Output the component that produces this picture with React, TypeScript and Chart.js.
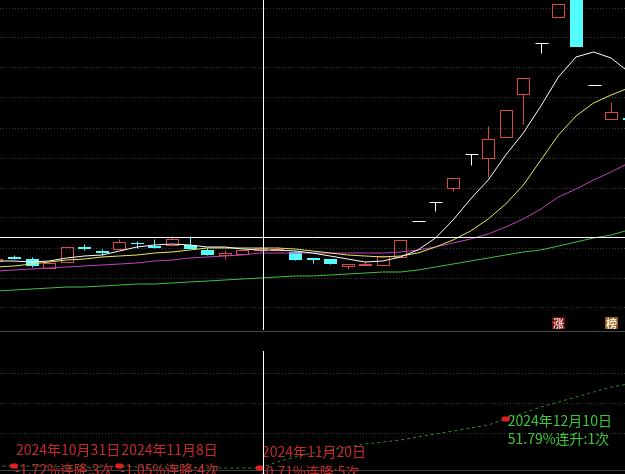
import { useEffect, useRef } from 'react';
import Chart from 'chart.js/auto';

// trading days shown (first one is only half visible at the left edge)
const dates = [
  '2024-10-30', '2024-10-31', '2024-11-01', '2024-11-04', '2024-11-05', '2024-11-06', '2024-11-07',
  '2024-11-08', '2024-11-11', '2024-11-12', '2024-11-13', '2024-11-14', '2024-11-15', '2024-11-18',
  '2024-11-19', '2024-11-20', '2024-11-21', '2024-11-22', '2024-11-25', '2024-11-26', '2024-11-27',
  '2024-11-28', '2024-11-29', '2024-12-02', '2024-12-03', '2024-12-04', '2024-12-05', '2024-12-06',
  '2024-12-09', '2024-12-10', '2024-12-11', '2024-12-12', '2024-12-13', '2024-12-16', '2024-12-17',
  '2024-12-18', '2024-12-19',
];

const opens = [7.38, 7.46, 7.42, 7.24, 7.36, 7.66, 7.58, 7.62, 7.74, 7.68, 7.70, 7.70, 7.60, 7.50, 7.52, 7.60, 7.60, 7.56, 7.44, 7.42, 7.28, 7.31, 7.30, 7.46, 8.18, 8.56, 8.84, 9.52, 9.44, 9.86, 10.72, 11.74, 12.26, 12.90, 10.90, 10.22, 10.24];
const highs = [7.42, 7.50, 7.46, 7.34, 7.68, 7.72, 7.62, 7.82, 7.78, 7.82, 7.88, 7.88, 7.64, 7.60, 7.60, 7.66, 7.66, 7.58, 7.44, 7.42, 7.32, 7.38, 7.50, 7.80, 8.18, 8.56, 9.04, 9.52, 10.08, 10.40, 11.04, 11.74, 12.52, 12.90, 10.90, 10.56, 10.24];
const lows = [7.38, 7.42, 7.26, 7.24, 7.36, 7.60, 7.50, 7.62, 7.64, 7.64, 7.70, 7.64, 7.50, 7.42, 7.52, 7.58, 7.58, 7.40, 7.34, 7.32, 7.22, 7.30, 7.30, 7.46, 8.18, 8.38, 8.78, 9.30, 9.06, 9.86, 10.12, 11.54, 12.26, 11.68, 10.90, 10.22, 10.21];
const closes = [7.42, 7.45, 7.30, 7.34, 7.66, 7.65, 7.57, 7.76, 7.73, 7.67, 7.82, 7.64, 7.52, 7.54, 7.60, 7.64, 7.61, 7.42, 7.43, 7.34, 7.32, 7.32, 7.48, 7.80, 8.18, 8.56, 9.04, 9.52, 9.82, 10.40, 11.04, 11.74, 12.52, 11.68, 10.90, 10.36, 10.21];

// moving averages
const ma5 = [7.38, 7.38, 7.36, 7.38, 7.44, 7.48, 7.50, 7.58, 7.66, 7.70, 7.72, 7.70, 7.66, 7.66, 7.62, 7.60, 7.60, 7.58, 7.54, 7.48, 7.42, 7.36, 7.38, 7.46, 7.60, 7.84, 8.20, 8.62, 9.00, 9.50, 9.94, 10.48, 11.06, 11.46, 11.56, 11.44, 11.16];
const ma10 = [7.26, 7.28, 7.32, 7.36, 7.40, 7.42, 7.46, 7.48, 7.50, 7.54, 7.56, 7.60, 7.64, 7.64, 7.64, 7.64, 7.64, 7.62, 7.58, 7.54, 7.50, 7.48, 7.46, 7.48, 7.54, 7.66, 7.80, 7.98, 8.22, 8.52, 8.90, 9.40, 9.90, 10.28, 10.54, 10.70, 10.84];
const ma20 = [7.18, 7.20, 7.22, 7.24, 7.26, 7.28, 7.30, 7.32, 7.34, 7.38, 7.40, 7.44, 7.46, 7.48, 7.50, 7.54, 7.54, 7.54, 7.54, 7.54, 7.54, 7.54, 7.54, 7.56, 7.60, 7.66, 7.74, 7.82, 7.92, 8.06, 8.22, 8.42, 8.66, 8.82, 9.00, 9.16, 9.34];
const ma60 = [6.78, 6.80, 6.82, 6.84, 6.86, 6.86, 6.88, 6.90, 6.92, 6.92, 6.94, 6.96, 6.98, 7.00, 7.02, 7.04, 7.06, 7.08, 7.08, 7.10, 7.12, 7.14, 7.16, 7.16, 7.20, 7.26, 7.32, 7.38, 7.44, 7.50, 7.56, 7.60, 7.68, 7.76, 7.84, 7.90, 8.00];

// lower indicator line
const signalLine = [0.4, 0.4, 0.4, 0.4, 0.3, 0.3, 0.3, 0.4, 0.3, 0.3, 0.3, 0.3, 0.2, 0.2, 0.2, 0.2, 0.8, 1.3, 1.7, 2.0, 2.3, 2.6, 2.8, 3.0, 3.3, 3.6, 3.9, 4.2, 4.5, 5.1, 5.7, 6.3, 6.8, 7.3, 7.8, 8.3, 8.6];

// streak markers
const signalDates = ['2024-10-31', '2024-11-08', '2024-11-20', '2024-12-10'];
const signalPcts = [-1.72, -1.05, -0.71, 51.79];
const signalCounts = [3, 4, 5, 1];

const badgeDates = ['2024-12-13', '2024-12-18'];
const badgeTexts = ['涨', '榜'];
const badgeColors = ['#6e0a0a', '#8a5a1e'];

const priceGrid = [6.44, 7.04, 7.64, 8.24, 8.84, 9.44, 10.04, 10.64, 11.24, 11.84, 12.44];
const signalGrid = [3.7, 6.7, 9.7];

// cursor position (sits a touch right of the 11/20 bar)
const cursorIndex = 15.2;
const cursorPrice = 7.86;

const X_MIN = 0.203;
const X_MAX = 35.79;

const RED = '#d84848';
const CYAN = '#54fcfc';
const FONT = '"Noto Sans CJK SC", "Noto Sans", sans-serif';

const pts = (arr: number[]) => arr.map((v, k) => ({ x: k, y: v }));

const cnDate = (d: string) => {
  const [y, m, dd] = d.split('-');
  return `${y}年${Number(m)}月${Number(dd)}日`;
};

const candlePlugin = {
  id: 'candles',
  beforeDatasetsDraw(chart: any) {
    const { ctx, chartArea, scales } = chart;
    const x = scales.x;
    const y = scales.y;
    const half = Math.round((x.getPixelForValue(1) - x.getPixelForValue(0)) * 0.35);
    ctx.save();
    ctx.beginPath();
    ctx.rect(chartArea.left, chartArea.top, chartArea.width, chartArea.height);
    ctx.clip();
    ctx.lineWidth = 1;
    dates.forEach((_, k) => {
      const cx = Math.round(x.getPixelForValue(k)) + 0.5;
      const yo = Math.round(y.getPixelForValue(opens[k])) + 0.5;
      const yc = Math.round(y.getPixelForValue(closes[k])) + 0.5;
      const yh = Math.round(y.getPixelForValue(highs[k])) + 0.5;
      const yl = Math.round(y.getPixelForValue(lows[k])) + 0.5;
      if (closes[k] > opens[k]) {
        ctx.strokeStyle = RED;
        ctx.strokeRect(cx - half, yc, half * 2, Math.max(yo - yc, 1));
        ctx.beginPath();
        ctx.moveTo(cx, yh);
        ctx.lineTo(cx, yc);
        ctx.moveTo(cx, yo);
        ctx.lineTo(cx, yl);
        ctx.stroke();
      } else if (closes[k] < opens[k]) {
        ctx.strokeStyle = CYAN;
        ctx.fillStyle = CYAN;
        ctx.beginPath();
        ctx.moveTo(cx, yh);
        ctx.lineTo(cx, yl);
        ctx.stroke();
        ctx.fillRect(cx - half - 0.5, yo - 0.5, half * 2 + 1, Math.max(yc - yo + 1, 1));
      } else {
        ctx.strokeStyle = '#ffffff';
        ctx.beginPath();
        ctx.moveTo(cx - half, yo);
        ctx.lineTo(cx + half + 1, yo);
        ctx.moveTo(cx, yh);
        ctx.lineTo(cx, yl);
        ctx.stroke();
      }
    });
    ctx.restore();
  },
  afterDatasetsDraw(chart: any) {
    const { ctx, chartArea, scales } = chart;
    const x = scales.x;
    const y = scales.y;
    ctx.save();
    // badges along the bottom
    ctx.font = `bold 11px ${FONT}`;
    ctx.textAlign = 'center';
    ctx.textBaseline = 'middle';
    badgeDates.forEach((d, n) => {
      const cx = Math.round(x.getPixelForValue(dates.indexOf(d)));
      const top = chartArea.bottom - 13;
      ctx.fillStyle = badgeColors[n];
      ctx.fillRect(cx - 6, top, 13, 12);
      ctx.fillStyle = n === 0 ? '#f4c8c8' : '#fff0d6';
      ctx.fillText(badgeTexts[n], cx + 0.5, top + 6.5);
    });
    // crosshair
    const vx = Math.round(x.getPixelForValue(cursorIndex)) + 0.5;
    const hy = Math.round(y.getPixelForValue(cursorPrice)) + 0.5;
    ctx.strokeStyle = '#ffffff';
    ctx.lineWidth = 1;
    ctx.beginPath();
    ctx.moveTo(vx, chartArea.top);
    ctx.lineTo(vx, chartArea.bottom);
    ctx.moveTo(chartArea.left, hy);
    ctx.lineTo(chartArea.right, hy);
    ctx.stroke();
    ctx.restore();
  },
};

const signalPlugin = {
  id: 'signals',
  afterDatasetsDraw(chart: any) {
    const { ctx, chartArea, scales } = chart;
    const x = scales.x;
    const y = scales.y;
    ctx.save();
    // bottom frame line
    const by = Math.round(y.getPixelForValue(0)) + 0.5;
    ctx.strokeStyle = '#404040';
    ctx.lineWidth = 1;
    ctx.beginPath();
    ctx.moveTo(chartArea.left, by);
    ctx.lineTo(chartArea.right, by);
    ctx.stroke();

    ctx.font = `14px ${FONT}`;
    ctx.textAlign = 'left';
    ctx.textBaseline = 'alphabetic';
    signalDates.forEach((d, n) => {
      const k = dates.indexOf(d);
      const px = x.getPixelForValue(k);
      const py = y.getPixelForValue(signalLine[k]);
      const up = signalPcts[n] > 0;
      const label = `${signalPcts[n].toFixed(2)}%${up ? '连升' : '连降'}:${signalCounts[n]}次`;
      ctx.fillStyle = up ? '#3cc83c' : '#c82a2a';
      if (up) {
        ctx.fillText(cnDate(d), px + 2, py + 7);
        ctx.fillText(label, px + 2, py + 25);
      } else {
        ctx.fillText(cnDate(d), px + 2, py - 11);
        ctx.fillText(label, px + 1, py + 9);
      }
      ctx.fillStyle = '#e02020';
      ctx.beginPath();
      ctx.roundRect(px - 4, py - 2.5, 8, 5, 2);
      ctx.fill();
    });

    const vx = Math.round(x.getPixelForValue(cursorIndex)) + 0.5;
    ctx.strokeStyle = '#ffffff';
    ctx.beginPath();
    ctx.moveTo(vx, chartArea.top);
    ctx.lineTo(vx, chart.height);
    ctx.stroke();
    ctx.restore();
  },
};

const maLine = (label: string, data: number[], color: string) => ({
  label,
  data: pts(data),
  borderColor: color,
  borderWidth: 1,
  pointRadius: 0,
  tension: 0,
  fill: false,
});

const gridAxis = (min: number, max: number, levels: number[]) => ({
  type: 'linear' as const,
  min,
  max,
  afterFit: (s: any) => { s.width = 0; },
  afterBuildTicks: (s: any) => { s.ticks = levels.map((v) => ({ value: v })); },
  ticks: { display: false },
  grid: { color: '#3a3a3a', drawTicks: false, lineWidth: 1 },
  border: { display: false, dash: [1, 2] },
});

const App = () => {
  const upperRef = useRef<HTMLCanvasElement | null>(null);
  const lowerRef = useRef<HTMLCanvasElement | null>(null);

  useEffect(() => {
    document.body.style.margin = '0';
    document.body.style.background = '#000';
    if (!upperRef.current || !lowerRef.current) return;

    const upper = new Chart(upperRef.current, {
      type: 'line',
      data: {
        datasets: [
          maLine('MA5', ma5, '#ffffff'),
          maLine('MA10', ma10, '#e8e860'),
          maLine('MA20', ma20, '#c040c0'),
          maLine('MA60', ma60, '#40c040'),
        ],
      },
      options: {
        responsive: false,
        animation: false,
        devicePixelRatio: 1,
        events: [],
        layout: { padding: 0 },
        plugins: { legend: { display: false }, tooltip: { enabled: false } },
        scales: {
          x: { type: 'linear', display: false, min: X_MIN, max: X_MAX },
          y: gridAxis(6, 12.6, priceGrid),
        },
      } as any,
      plugins: [candlePlugin],
    });

    const lower = new Chart(lowerRef.current, {
      type: 'line',
      data: {
        datasets: [
          {
            label: 'signal',
            data: pts(signalLine),
            borderColor: '#2f8a2f',
            borderWidth: 1,
            borderDash: [3, 3],
            pointRadius: 0,
            tension: 0,
            fill: false,
          },
        ],
      },
      options: {
        responsive: false,
        animation: false,
        devicePixelRatio: 1,
        events: [],
        layout: { padding: { top: 19 } },
        plugins: { legend: { display: false }, tooltip: { enabled: false } },
        scales: {
          x: { type: 'linear', display: false, min: X_MIN, max: X_MAX },
          y: gridAxis(-0.4, 11.9, signalGrid),
        },
      } as any,
      plugins: [signalPlugin],
    });

    return () => {
      upper.destroy();
      lower.destroy();
    };
  }, []);

  return (
    <div style={{ position: 'relative', width: 625, height: 474, background: '#000', overflow: 'hidden' }}>
      <canvas ref={upperRef} width={625} height={330} style={{ position: 'absolute', left: 0, top: 0 }} />
      <div style={{ position: 'absolute', left: 0, top: 331, width: 625, height: 1, background: '#484848' }} />
      <canvas ref={lowerRef} width={625} height={142} style={{ position: 'absolute', left: 0, top: 332 }} />
    </div>
  );
};

export default App;
